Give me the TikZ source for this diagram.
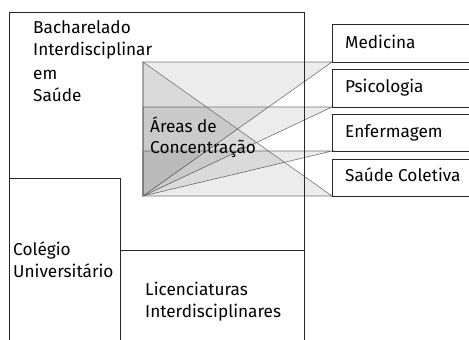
\documentclass[tikz,border=0pt]{standalone}
\usepackage{fontspec}
\setmainfont{Fira Sans}
\begin{document}
\begin{tikzpicture}[x=1pt,y=-1pt,
  frame/.style={draw=black!85,line width=0.8pt},
  fan/.style={fill=black,fill opacity=0.075,draw=black!55,draw opacity=1,line width=0.6pt},
  lbl/.style={anchor=base west,inner sep=0pt,font=\fontsize{17.2}{18}\selectfont}]
\useasboundingbox (0,0) rectangle (469,340);
% coordinates
\coordinate (tl) at (143,62);
\coordinate (bl) at (143,196);
\coordinate (m) at (332,62);
\coordinate (p) at (332,107);
\coordinate (e) at (332,151);
\coordinate (s) at (332,196);
\coordinate (pl) at (143,107);
\coordinate (el) at (143,151);
% fan triangles
\path[fan] (tl) -- (m) -- (bl) -- cycle;
\path[fan] (pl) -- (p) -- (bl) -- cycle;
\path[fan] (el) -- (e) -- (bl) -- cycle;
\path[fan] (tl) -- (bl) -- (s) -- cycle;
% big frames
\draw[frame] (9,340) -- (9,12) -- (304,12) -- (304,340);
\draw[frame] (9,178) -- (120,178) -- (120,340);
\draw[frame] (120,250) -- (304,250);
% right boxes
\draw[frame] (469,24) -- (332,24) -- (332,62) -- (469,62);
\draw[frame] (469,69) -- (332,69) -- (332,107) -- (469,107);
\draw[frame] (469,114) -- (332,114) -- (332,151) -- (469,151);
\draw[frame] (469,159) -- (332,159) -- (332,196) -- (469,196);
% labels
\node[lbl] (b1) at (33,33) {Bacharelado};
\node[lbl] (b2) at (33,56) {Interdisciplinar};
\node[lbl] (b3) at (33,79) {em};
\node[lbl] (b4) at (33,101) {Saúde};
\node[lbl] (a1) at (150,132) {Áreas de};
\node[lbl] (a2) at (150,153) {Concentração};
\node[lbl] (c1) at (13,255) {Colégio};
\node[lbl] (c2) at (13,277) {Universitário};
\node[lbl] (l1) at (145,295) {Licenciaturas};
\node[lbl] (l2) at (145,317) {Interdisciplinares};
\node[lbl] (med) at (345,48) {Medicina};
\node[lbl] (psi) at (345,92) {Psicologia};
\node[lbl] (enf) at (345,137) {Enfermagem};
\node[lbl] (sau) at (345,181) {Saúde Coletiva};
\end{tikzpicture}
\end{document}
